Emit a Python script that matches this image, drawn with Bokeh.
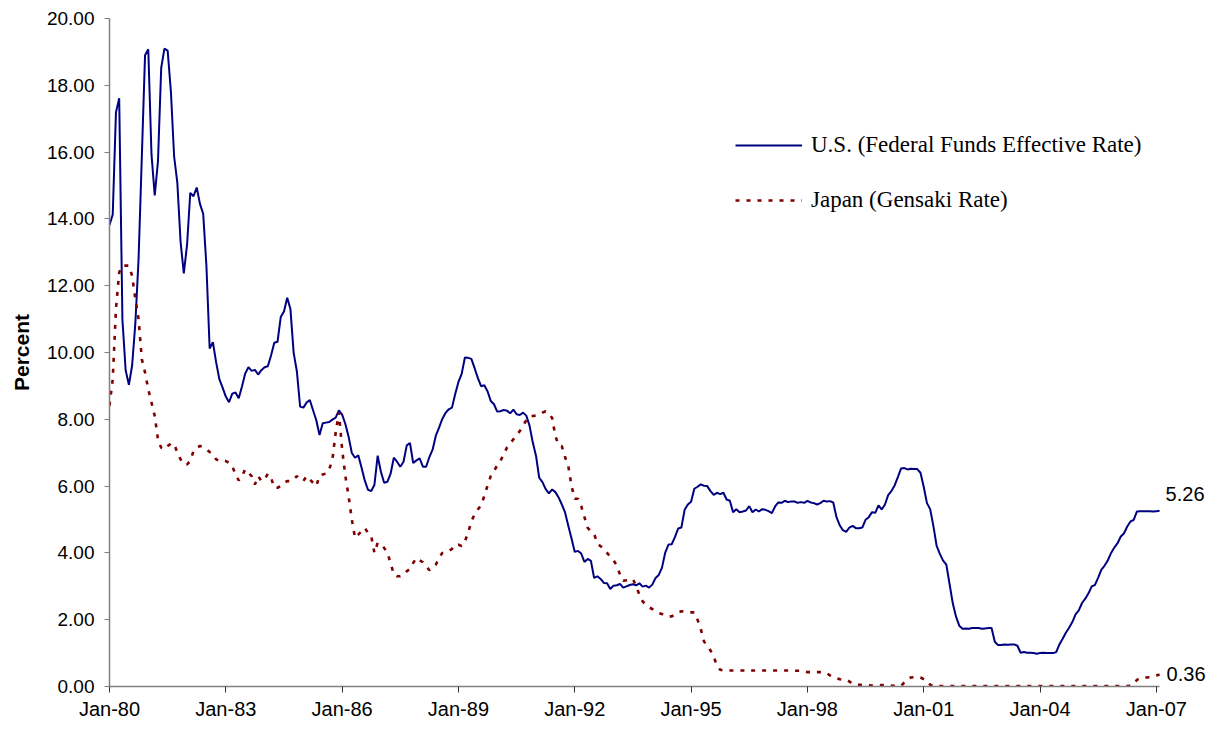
from bokeh.plotting import figure
from bokeh.models import Range1d, FixedTicker, NumeralTickFormatter, Legend, LegendItem
from bokeh.core.properties import value
from bokeh.embed import file_html
from bokeh.resources import INLINE

# ---------------- data (monthly, Jan-1980 .. Feb-2007) ----------------
us_fed_funds = [
    13.82, 14.13, 17.19, 17.61, 10.98, 9.47, 9.03, 9.61, 10.87, 12.81, 15.85, 18.90,   # 1980
    19.08, 15.93, 14.70, 15.72, 18.52, 19.10, 19.04, 17.82, 15.87, 15.08, 13.31, 12.37,  # 1981
    13.22, 14.78, 14.68, 14.94, 14.45, 14.15, 12.59, 10.12, 10.31, 9.71, 9.20, 8.95,     # 1982
    8.68, 8.51, 8.77, 8.80, 8.63, 8.98, 9.37, 9.56, 9.45, 9.48, 9.34, 9.47,              # 1983
    9.56, 9.59, 9.91, 10.29, 10.32, 11.06, 11.23, 11.64, 11.30, 9.99, 9.43, 8.38,        # 1984
    8.35, 8.50, 8.58, 8.27, 7.97, 7.53, 7.88, 7.90, 7.92, 7.99, 8.05, 8.27,              # 1985
    8.14, 7.86, 7.48, 6.99, 6.85, 6.92, 6.56, 6.17, 5.89, 5.85, 6.04, 6.91,              # 1986
    6.43, 6.10, 6.13, 6.37, 6.85, 6.73, 6.58, 6.73, 7.22, 7.29, 6.69, 6.77,              # 1987
    6.83, 6.58, 6.58, 6.87, 7.09, 7.51, 7.75, 8.01, 8.19, 8.30, 8.35, 8.76,              # 1988
    9.12, 9.36, 9.85, 9.84, 9.81, 9.53, 9.24, 8.99, 9.02, 8.84, 8.55, 8.45,              # 1989
    8.23, 8.24, 8.28, 8.26, 8.18, 8.29, 8.15, 8.13, 8.20, 8.11, 7.81, 7.31,              # 1990
    6.91, 6.25, 6.12, 5.91, 5.78, 5.90, 5.82, 5.66, 5.45, 5.21, 4.81, 4.43,              # 1991
    4.03, 4.06, 3.98, 3.73, 3.82, 3.76, 3.25, 3.30, 3.22, 3.10, 3.09, 2.92,              # 1992
    3.02, 3.03, 3.07, 2.96, 3.00, 3.04, 3.06, 3.03, 3.09, 2.99, 3.02, 2.96,              # 1993
    3.05, 3.25, 3.34, 3.56, 4.01, 4.25, 4.26, 4.47, 4.73, 4.76, 5.29, 5.45,              # 1994
    5.53, 5.92, 5.98, 6.05, 6.01, 6.00, 5.85, 5.74, 5.80, 5.76, 5.80, 5.60,              # 1995
    5.56, 5.22, 5.31, 5.22, 5.24, 5.27, 5.40, 5.22, 5.30, 5.24, 5.31, 5.29,              # 1996
    5.25, 5.19, 5.39, 5.51, 5.50, 5.56, 5.52, 5.54, 5.54, 5.50, 5.52, 5.50,              # 1997
    5.56, 5.51, 5.49, 5.45, 5.49, 5.56, 5.54, 5.55, 5.51, 5.07, 4.83, 4.68,              # 1998
    4.63, 4.76, 4.81, 4.74, 4.74, 4.76, 4.99, 5.07, 5.22, 5.20, 5.42, 5.30,              # 1999
    5.45, 5.73, 5.85, 6.02, 6.27, 6.53, 6.54, 6.50, 6.52, 6.51, 6.51, 6.40,              # 2000
    5.98, 5.49, 5.31, 4.80, 4.21, 3.97, 3.77, 3.65, 3.07, 2.49, 2.09, 1.82,              # 2001
    1.73, 1.74, 1.73, 1.75, 1.75, 1.75, 1.73, 1.74, 1.75, 1.75, 1.34, 1.24,              # 2002
    1.24, 1.26, 1.25, 1.26, 1.26, 1.22, 1.01, 1.03, 1.01, 1.01, 1.00, 0.98,              # 2003
    1.00, 1.01, 1.00, 1.00, 1.00, 1.03, 1.26, 1.43, 1.61, 1.76, 1.93, 2.16,              # 2004
    2.28, 2.50, 2.63, 2.79, 3.00, 3.04, 3.26, 3.50, 3.62, 3.78, 4.00, 4.16,              # 2005
    4.29, 4.49, 4.59, 4.79, 4.94, 4.99, 5.24, 5.25, 5.25, 5.25, 5.25, 5.24,              # 2006
    5.25, 5.26,                                                                          # 2007
]

japan_gensaki = [
    8.41, 9.20, 11.30, 12.40, 12.60, 12.60, 12.60, 12.30, 11.60, 11.00, 9.80, 9.40,      # 1980
    8.90, 8.50, 8.10, 7.40, 7.15, 7.10, 7.20, 7.27, 7.27, 7.00, 6.80, 6.65,              # 1981
    6.65, 6.75, 7.05, 7.15, 7.20, 7.17, 7.10, 7.02, 6.95, 6.80, 6.75, 6.77,              # 1982
    6.75, 6.70, 6.60, 6.35, 6.17, 6.30, 6.50, 6.40, 6.30, 6.05, 6.30, 6.15,              # 1983
    6.20, 6.37, 6.25, 5.95, 5.95, 6.00, 6.10, 6.15, 6.15, 6.20, 6.30, 6.20,              # 1984
    6.15, 6.30, 6.20, 6.10, 6.00, 6.32, 6.35, 6.37, 6.50, 6.80, 7.60, 8.20,              # 1985
    7.10, 6.30, 5.70, 5.00, 4.45, 4.55, 4.65, 4.75, 4.60, 4.50, 4.00, 4.30,              # 1986
    4.25, 4.15, 4.00, 3.70, 3.35, 3.30, 3.30, 3.35, 3.45, 3.52, 3.70, 3.85,              # 1987
    3.78, 3.72, 3.60, 3.48, 3.55, 3.65, 3.85, 4.00, 4.02, 4.05, 4.12, 4.25,              # 1988
    4.25, 4.20, 4.35, 4.60, 4.95, 5.15, 5.30, 5.42, 5.70, 6.02, 6.30, 6.45,              # 1989
    6.62, 6.75, 6.95, 7.15, 7.27, 7.40, 7.52, 7.65, 7.80, 7.98, 8.08, 8.10,              # 1990
    8.11, 8.15, 8.20, 8.24, 8.15, 8.04, 7.50, 7.22, 7.19, 6.87, 6.60, 6.00,              # 1991
    5.62, 5.62, 5.40, 5.07, 4.75, 4.65, 4.57, 4.27, 4.20, 4.12, 4.00, 3.88,              # 1992
    3.78, 3.62, 3.35, 3.17, 3.18, 3.20, 3.22, 3.00, 2.75, 2.55, 2.45, 2.37,              # 1993
    2.32, 2.25, 2.20, 2.17, 2.12, 2.10, 2.10, 2.15, 2.22, 2.25, 2.24, 2.22,              # 1994
    2.22, 2.22, 2.00, 1.72, 1.35, 1.20, 1.08, 0.90, 0.62, 0.50, 0.48, 0.48,              # 1995
    0.48, 0.48, 0.48, 0.48, 0.48, 0.48, 0.45, 0.48, 0.48, 0.48, 0.48, 0.48,              # 1996
    0.48, 0.48, 0.48, 0.48, 0.48, 0.48, 0.48, 0.48, 0.47, 0.47, 0.47, 0.46,              # 1997
    0.43, 0.43, 0.43, 0.43, 0.43, 0.43, 0.40, 0.33, 0.28, 0.25, 0.22, 0.20,              # 1998
    0.20, 0.15, 0.08, 0.05, 0.05, 0.05, 0.05, 0.04, 0.03, 0.03, 0.03, 0.04,              # 1999
    0.05, 0.05, 0.03, 0.02, 0.01, 0.02, 0.12, 0.22, 0.27, 0.28, 0.28, 0.27,              # 2000
    0.22, 0.18, 0.05, 0.01, 0.01, 0.01, 0.01, 0.01, 0.01, 0.01, 0.01, 0.01,              # 2001
    0.01, 0.01, 0.01, 0.01, 0.01, 0.01, 0.01, 0.01, 0.01, 0.01, 0.01, 0.01,              # 2002
    0.01, 0.01, 0.01, 0.01, 0.01, 0.01, 0.01, 0.01, 0.01, 0.01, 0.01, 0.01,              # 2003
    0.01, 0.01, 0.01, 0.01, 0.01, 0.01, 0.01, 0.01, 0.01, 0.01, 0.01, 0.01,              # 2004
    0.01, 0.01, 0.01, 0.01, 0.01, 0.01, 0.01, 0.01, 0.01, 0.01, 0.01, 0.01,              # 2005
    0.01, 0.01, 0.01, 0.01, 0.02, 0.08, 0.20, 0.25, 0.26, 0.27, 0.28, 0.30,              # 2006
    0.33, 0.36,                                                                          # 2007
]

tick_labels = ["Jan-80", "Jan-83", "Jan-86", "Jan-89", "Jan-92",
               "Jan-95", "Jan-98", "Jan-01", "Jan-04", "Jan-07"]
series_names = ["U.S. (Federal Funds Effective Rate)", "Japan (Gensaki Rate)"]
y_ticks = [0, 2, 4, 6, 8, 10, 12, 14, 16, 18, 20]

months = list(range(len(us_fed_funds)))
last = months[-1]
tick_pos = [i * 36 for i in range(len(tick_labels))]

# ---------------- figure ----------------
p = figure(width=1215, height=722, output_backend="svg", toolbar_location=None,
           x_range=Range1d(0, last + 17), y_range=Range1d(0, 20),
           min_border_left=109, min_border_right=1, min_border_top=18,
           min_border_bottom=36)
p.outline_line_color = None
p.xgrid.visible = False
p.ygrid.visible = False
p.background_fill_color = "white"
p.border_fill_color = "white"

us_r = p.line(months, us_fed_funds, line_color="#000080", line_width=2)
jp_r = p.line(months, japan_gensaki, line_color="#800000", line_width=2.6,
              line_dash="4 7")

# x axis
xa = p.xaxis[0]
xa.bounds = (0, last)
xa.ticker = FixedTicker(ticks=tick_pos, minor_ticks=[])
xa.major_label_overrides = {t: l for t, l in zip(tick_pos, tick_labels)}
xa.axis_line_color = "#808080"
xa.axis_line_width = 1.5
xa.major_tick_line_color = "#333333"
xa.major_tick_in = 0
xa.major_tick_out = 6
xa.minor_tick_line_color = None
xa.major_label_standoff = 5
xa.major_label_text_font = "Liberation Sans"
xa.major_label_text_font_size = "20px"
xa.major_label_text_color = "#000000"

# y axis
ya = p.yaxis[0]
ya.ticker = FixedTicker(ticks=y_ticks, minor_ticks=[])
ya.formatter = NumeralTickFormatter(format="0.00")
ya.axis_line_color = "#808080"
ya.axis_line_width = 1.5
ya.major_tick_line_color = "#808080"
ya.major_tick_in = 0
ya.major_tick_out = 5
ya.minor_tick_line_color = None
ya.major_label_standoff = 10
ya.major_label_text_font = "Liberation Sans"
ya.major_label_text_font_size = "19px"
ya.major_label_text_color = "#000000"
ya.axis_label = "Percent"
ya.axis_label_text_font = "Liberation Sans"
ya.axis_label_text_font_style = "bold"
ya.axis_label_text_font_size = "21px"
ya.axis_label_text_color = "#000000"
ya.axis_label_standoff = 11

# end-value labels
p.text(x=[last], y=[us_fed_funds[-1]], text=[f"{us_fed_funds[-1]:.2f}"],
       x_offset=6, y_offset=-17, text_baseline="middle", text_align="left",
       text_font=value("Liberation Sans"), text_font_size="20px", text_color="#000000")
p.text(x=[last], y=[japan_gensaki[-1]], text=[f"{japan_gensaki[-1]:.2f}"],
       x_offset=7, y_offset=0, text_baseline="middle", text_align="left",
       text_font=value("Liberation Sans"), text_font_size="20px", text_color="#000000")

legend = Legend(items=[LegendItem(label=series_names[0], renderers=[us_r]),
                       LegendItem(label=series_names[1], renderers=[jp_r])],
                location=(626, 473), orientation="vertical",
                glyph_width=67, glyph_height=20, label_height=20,
                label_standoff=9, spacing=29, padding=0, margin=0,
                border_line_alpha=0, background_fill_alpha=0,
                label_text_font="Liberation Serif", label_text_font_size="23px",
                label_text_color="#000000")
p.add_layout(legend)

open("out.html", "w").write(file_html(p, INLINE))
